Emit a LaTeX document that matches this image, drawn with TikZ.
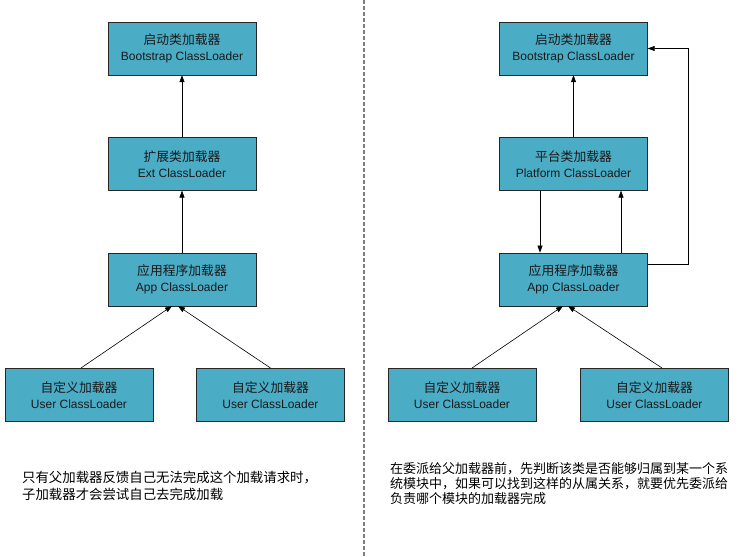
\documentclass[tikz,border=0pt]{standalone}
\usepackage{fontspec}
\setmainfont{Liberation Sans}
\newfontfamily\cjk{Noto Sans CJK SC}
\usetikzlibrary{arrows.meta,positioning}
\definecolor{boxblue}{RGB}{75,172,198}
\definecolor{sepgray}{RGB}{125,125,125}

\begin{document}
\begin{tikzpicture}[
  x=1pt, y=-1pt,
  node distance=62pt,
  loader/.style={
    draw=black!85,
    fill=boxblue,
    align=center,
    minimum width=148pt,
    minimum height=53pt,
    inner sep=2pt,
    text=black!90,
    font=\fontsize{12}{16}\selectfont
  },
  arrow/.style={-{Triangle[length=7pt,width=5pt]}, line width=0.6pt},
  note/.style={align=left, anchor=north west, inner sep=0pt,
    font=\cjk\fontsize{13}{16}\selectfont}
]
\useasboundingbox (0,0) rectangle (756,557);

% left: parent delegation
\node[loader] at (182,48.5) (boot) {{\cjk\fontsize{12.8}{16}\selectfont 启动类加载器}\\Bootstrap ClassLoader};
\node[loader, below=of boot] (ext) {{\cjk\fontsize{12.8}{16}\selectfont 扩展类加载器}\\Ext ClassLoader};
\node[loader, below=of ext] (app) {{\cjk\fontsize{12.8}{16}\selectfont 应用程序加载器}\\App ClassLoader};
\node[loader, below=of app, xshift=-103pt] (user1) {{\cjk\fontsize{12.8}{16}\selectfont 自定义加载器}\\User ClassLoader};
\node[loader, below=of app, xshift=88.5pt] (user2) {{\cjk\fontsize{12.8}{16}\selectfont 自定义加载器}\\User ClassLoader};
\draw[arrow] (ext) -- (boot);
\draw[arrow] (app) -- (ext);
\draw[arrow] ([xshift=2pt]user1.north) -- ([xshift=-10pt]app.south);
\draw[arrow] (user2.north) -- ([xshift=-4pt]app.south);
\node[note, font=\cjk\fontsize{13.4}{16.5}\selectfont] at (22,471) (noteleft)
  {只有父加载器反馈自己无法完成这个加载请求时，\\子加载器才会尝试自己去完成加载};

% separator
\draw[sepgray, line width=1.1pt, dash pattern=on 4pt off 2pt] (364,0) -- (364,557);

% right: with platform modules
\node[loader] at (573.5,48.5) (boot2) {{\cjk\fontsize{12.8}{16}\selectfont 启动类加载器}\\Bootstrap ClassLoader};
\node[loader, below=of boot2] (plat) {{\cjk\fontsize{12.8}{16}\selectfont 平台类加载器}\\Platform ClassLoader};
\node[loader, below=of plat] (app2) {{\cjk\fontsize{12.8}{16}\selectfont 应用程序加载器}\\App ClassLoader};
\node[loader, below=of app2, xshift=-111.5pt] (user3) {{\cjk\fontsize{12.8}{16}\selectfont 自定义加载器}\\User ClassLoader};
\node[loader, below=of app2, xshift=81pt] (user4) {{\cjk\fontsize{12.8}{16}\selectfont 自定义加载器}\\User ClassLoader};
\draw[arrow] (plat) -- (boot2);
\draw[arrow] ([xshift=-33.5pt]plat.south) -- ([xshift=-33.5pt]app2.north);
\draw[arrow] ([xshift=47.5pt]app2.north) -- ([xshift=47.5pt]plat.south);
\draw[arrow] ([yshift=15pt]app2.east) -- ++(41,0) |- (boot2.east);
\draw[arrow] ([xshift=10pt]user3.north) -- ([xshift=-10.5pt]app2.south);
\draw[arrow] ([xshift=7.5pt]user4.north) -- ([xshift=-5.5pt]app2.south);
\node[note, font=\cjk\fontsize{13}{14.7}\selectfont] at (390,462.5) (noteright)
  {在委派给父加载器前，先判断该类是否能够归属到某一个系\\统模块中，如果可以找到这样的从属关系，就要优先委派给\\负责哪个模块的加载器完成};
\end{tikzpicture}
\end{document}
